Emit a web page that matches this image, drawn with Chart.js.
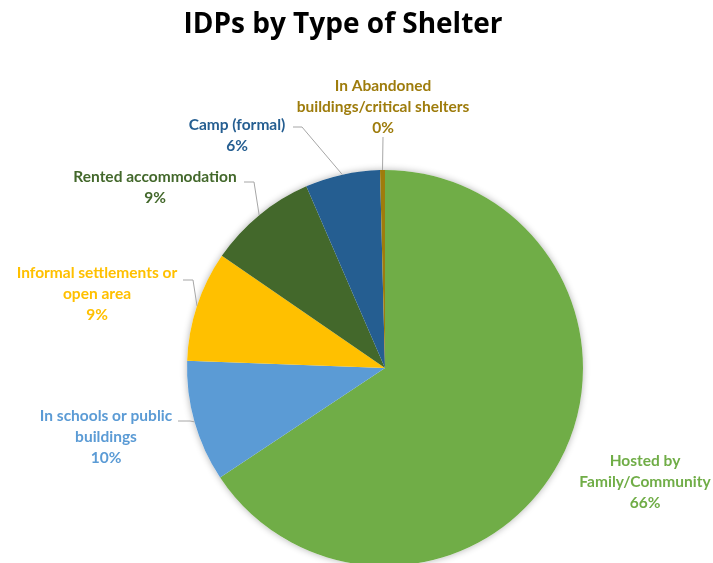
<!DOCTYPE html>
<html>
<head>
<meta charset="utf-8">
<script src="https://cdn.jsdelivr.net/npm/chart.js@4"></script>
<style>
  html, body { margin: 0; padding: 0; background: #fff; overflow: hidden; }
  #wrap { position: relative; width: 713px; height: 570px; }
</style>
</head>
<body>
<div id="wrap"><canvas id="shelterChart"></canvas></div>
<script>
// Data
const categories = [
  'Hosted by Family/Community',
  'In schools or public buildings',
  'Informal settlements or open area',
  'Rented accommodation',
  'Camp (formal)',
  'In Abandoned buildings/critical shelters'
];
const shares = [65.6, 9.9, 9.0, 8.9, 6.1, 0.4];
const sliceColors = ['#70AD47', '#5B9BD5', '#FFC000', '#43682B', '#255E91', '#9E7C0C'];

// Label layout: wrapped lines, text centre, elbow of the leader line (null = no line)
const labelLayout = [
  { lines: ['Hosted by', 'Family/Community'], x: 645, y: 461, elbow: null },
  { lines: ['In schools or public', 'buildings'], x: 106, y: 416, elbow: [[178, 421], [190, 421]] },
  { lines: ['Informal settlements or', 'open area'], x: 97, y: 273, elbow: [[183, 280], [193, 280]] },
  { lines: ['Rented accommodation'], x: 155, y: 177, elbow: [[244, 182], [254, 182]] },
  { lines: ['Camp (formal)'], x: 237, y: 125, elbow: [[293, 127], [302, 127]] },
  { lines: ['In Abandoned', 'buildings/critical shelters'], x: 383, y: 86, elbow: [[383, 137], [383, 137]] }
];

const LABEL_FONT = 'bold 15.5px Lato';
const LINE_H = 21;

// Soft shadow behind the pie
const pieShadow = {
  id: 'pieShadow',
  beforeDatasetsDraw(chart) {
    const arc = chart.getDatasetMeta(0).data[0];
    if (!arc) return;
    const ctx = chart.ctx;
    ctx.save();
    ctx.shadowColor = 'rgba(0,0,0,0.3)';
    ctx.shadowBlur = 7;
    ctx.fillStyle = '#fff';
    ctx.beginPath();
    ctx.arc(arc.x, arc.y, arc.outerRadius, 0, Math.PI * 2);
    ctx.fill();
    ctx.restore();
  }
};

// Title, outside labels and leader lines
const outsideLabels = {
  id: 'outsideLabels',
  afterDraw(chart) {
    const ctx = chart.ctx;
    const meta = chart.getDatasetMeta(0);
    const total = shares.reduce((a, b) => a + b, 0);

    ctx.save();
    ctx.fillStyle = '#000';
    ctx.font = 'bold 28px "Open Sans"';
    ctx.textAlign = 'center';
    ctx.textBaseline = 'middle';
    ctx.fillText('IDPs by Type of Shelter', 343, 25);

    ctx.font = LABEL_FONT;
    labelLayout.forEach((lab, i) => {
      const arc = meta.data[i];
      if (lab.elbow) {
        const mid = (arc.startAngle + arc.endAngle) / 2;
        const ex = arc.x + Math.cos(mid) * arc.outerRadius;
        const ey = arc.y + Math.sin(mid) * arc.outerRadius;
        ctx.strokeStyle = '#A6A6A6';
        ctx.lineWidth = 1;
        ctx.beginPath();
        ctx.moveTo(lab.elbow[0][0], lab.elbow[0][1]);
        ctx.lineTo(lab.elbow[1][0], lab.elbow[1][1]);
        ctx.lineTo(ex, ey);
        ctx.stroke();
      }
      const pct = Math.round(shares[i] / total * 100) + '%';
      const lines = lab.lines.concat([pct]);
      ctx.fillStyle = sliceColors[i];
      lines.forEach((t, k) => ctx.fillText(t, lab.x, lab.y + k * LINE_H));
    });
    ctx.restore();
  }
};

const ctx = document.getElementById('shelterChart').getContext('2d');
// eslint-disable-next-line no-undef
new Chart(ctx, {
  type: 'pie',
  data: {
    labels: categories,
    datasets: [{
      data: shares,
      backgroundColor: sliceColors,
      borderWidth: 0
    }]
  },
  options: {
    responsive: true,
    maintainAspectRatio: false,
    animation: false,
    layout: { padding: { left: 187, right: 130, top: 170, bottom: 4 } },
    plugins: {
      legend: { display: false },
      tooltip: { enabled: false }
    }
  },
  plugins: [pieShadow, outsideLabels]
});
</script>
</body>
</html>
